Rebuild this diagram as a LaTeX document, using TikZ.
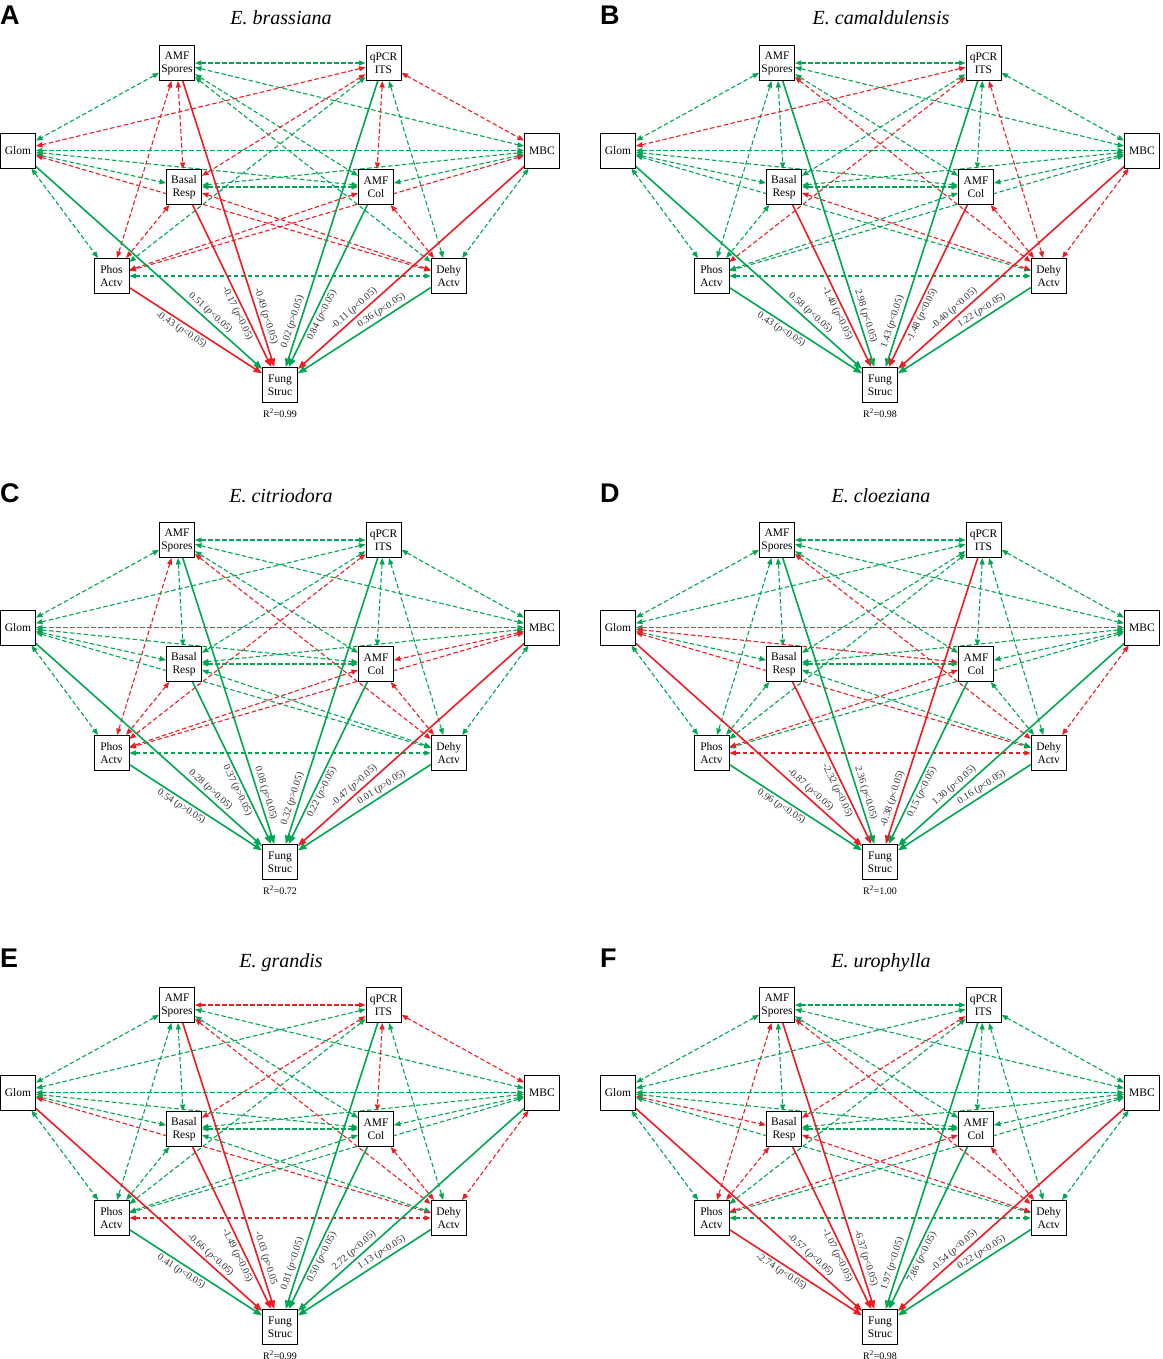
\documentclass[tikz,border=0pt]{standalone}
\usepackage{fontspec}
\setmainfont{Liberation Serif}
\newfontfamily\panelfont{Liberation Sans}
\usetikzlibrary{arrows.meta,backgrounds}

\definecolor{gcol}{RGB}{0,166,81}
\definecolor{rcol}{RGB}{237,28,36}

\tikzset{
  var/.style={draw, line width=0.9pt, fill=white, minimum width=35pt,
    minimum height=35pt, inner sep=0pt, align=center,
    font=\fontsize{11.5}{13}\selectfont},
  cov/.style={line width=1.1pt, dash pattern=on 4.5pt off 2.5pt,
    {Triangle[length=6.5pt,width=5pt]}-{Triangle[length=6.5pt,width=5pt]}},
  eff/.style={line width=1.6pt, -{Triangle[length=8.5pt,width=6.5pt]}},
  est/.style={sloped, inner sep=2pt, text=black!80,
    font=\fontsize{10}{12}\selectfont},
  tag/.style={anchor=base west, inner sep=0pt,
    font=\panelfont\bfseries\fontsize{27}{30}\selectfont},
  species/.style={anchor=base, inner sep=0pt,
    font=\fontsize{20}{24}\selectfont\itshape},
  rsq/.style={anchor=base, inner sep=0pt, font=\fontsize{10}{12}\selectfont},
  % where the estimate sits on each path into Fung Struc
  labP/.style={pos=0.42, below},
  labG/.style={pos=0.75, above},
  labB/.style={pos=0.65, below},
  labS/.style={pos=0.83, above},
  labQ/.style={pos=0.85, above},
  labC/.style={pos=0.66, below},
  labM/.style={pos=0.73, above},
  labD/.style={pos=0.34, above}
}

% one panel: prefix, shift x, shift y, letter, species, R2
\newcommand{\sempanel}[6]{%
  \begin{scope}[shift={(#2,#3)}]
    \node[tag] (#1tag) at (0,25) {#4};
    \node[species] (#1title) at (281,25) {#5};
    \node[var] (#1S) at (177,63) {AMF\\Spores};
    \node[var] (#1Q) at (383.5,63) {qPCR\\ITS};
    \node[var] (#1G) at (18,150.5) {Glom};
    \node[var] (#1M) at (542,150.5) {MBC};
    \node[var] (#1B) at (184,187) {Basal\\Resp};
    \node[var] (#1C) at (376,187) {AMF\\Col};
    \node[var] (#1P) at (111.5,276) {Phos\\Actv};
    \node[var] (#1D) at (448.7,276) {Dehy\\Actv};
    \node[var] (#1F) at (280,385) {Fung\\Struc};
    \node[rsq] (#1R) at (280,417) {R\textsuperscript{2}=#6};
  \end{scope}}

\begin{document}
\begin{tikzpicture}[x=1pt, y=-1pt]
  \useasboundingbox (0,0) rectangle (1162,1359);

  % A
  \sempanel{a}{0}{0}{A}{E. brassiana}{0.99}
  \begin{pgfonlayer}{background}
    \foreach \u/\v/\c in {S/Q/gcol, S/G/gcol, S/M/gcol, S/B/rcol, S/C/gcol, S/P/rcol, S/D/gcol,
        Q/G/rcol, Q/M/rcol, Q/B/rcol, Q/C/rcol, Q/P/gcol, Q/D/gcol,
        G/M/gcol, G/B/gcol, G/C/gcol, G/P/gcol, G/D/rcol,
        M/B/gcol, M/C/gcol, M/P/rcol, M/D/gcol,
        B/C/gcol, B/P/rcol, B/D/rcol, C/P/rcol, C/D/rcol, P/D/gcol}
      \draw[cov,\c] (a\u) -- (a\v);
    \foreach \u/\l/\c/\w in {P/labP/rcol/{-0.43 (\textit{p}<0.05)}, G/labG/gcol/{0.51 (\textit{p}<0.05)},
        B/labB/rcol/{-0.17 (\textit{p}<0.05)}, S/labS/rcol/{-0.49 (\textit{p}<0.05)},
        Q/labQ/gcol/{0.02 (\textit{p}>0.05)}, C/labC/gcol/{0.84 (\textit{p}<0.05)},
        M/labM/rcol/{-0.11 (\textit{p}<0.05)}, D/labD/gcol/{0.36 (\textit{p}<0.05)}}
      \draw[eff,\c] (a\u) -- node[est,\l] {\w} (aF);
  \end{pgfonlayer}

  % B
  \sempanel{b}{600}{0}{B}{E. camaldulensis}{0.98}
  \begin{pgfonlayer}{background}
    \foreach \u/\v/\c in {S/Q/gcol, S/G/gcol, S/M/gcol, S/B/gcol, S/C/gcol, S/P/gcol, S/D/rcol,
        Q/G/rcol, Q/M/gcol, Q/B/gcol, Q/C/gcol, Q/P/rcol, Q/D/rcol,
        G/M/gcol, G/B/gcol, G/C/gcol, G/P/gcol, G/D/gcol,
        M/B/gcol, M/C/gcol, M/P/gcol, M/D/rcol,
        B/C/gcol, B/P/gcol, B/D/rcol, C/P/gcol, C/D/rcol, P/D/gcol}
      \draw[cov,\c] (b\u) -- (b\v);
    \foreach \u/\l/\c/\w in {P/labP/gcol/{0.43 (\textit{p}<0.05)}, G/labG/gcol/{0.58 (\textit{p}<0.05)},
        B/labB/rcol/{-1.40 (\textit{p}<0.05)}, S/labS/gcol/{2.98 (\textit{p}<0.05)},
        Q/labQ/gcol/{1.43 (\textit{p}<0.05)}, C/labC/rcol/{-1.48 (\textit{p}<0.05)},
        M/labM/rcol/{-0.40 (\textit{p}<0.05)}, D/labD/gcol/{1.22 (\textit{p}<0.05)}}
      \draw[eff,\c] (b\u) -- node[est,\l] {\w} (bF);
  \end{pgfonlayer}

  % C
  \sempanel{c}{0}{477}{C}{E. citriodora}{0.72}
  \begin{pgfonlayer}{background}
    \foreach \u/\v/\c in {S/Q/gcol, S/G/gcol, S/M/gcol, S/B/gcol, S/C/gcol, S/P/rcol, S/D/rcol,
        Q/G/gcol, Q/M/gcol, Q/B/gcol, Q/C/gcol, Q/P/rcol, Q/D/gcol,
        G/M/gcol, G/B/gcol, G/C/gcol, G/P/gcol, G/D/gcol,
        M/B/gcol, M/C/rcol, M/P/rcol, M/D/gcol,
        B/C/gcol, B/P/rcol, B/D/gcol, C/P/rcol, C/D/rcol, P/D/gcol}
      \draw[cov,\c] (c\u) -- (c\v);
    \foreach \u/\l/\c/\w in {P/labP/gcol/{0.54 (\textit{p}>0.05)}, G/labG/gcol/{0.28 (\textit{p}>0.05)},
        B/labB/gcol/{0.37 (\textit{p}>0.05)}, S/labS/gcol/{0.08 (\textit{p}>0.05)},
        Q/labQ/gcol/{0.32 (\textit{p}>0.05)}, C/labC/gcol/{0.22 (\textit{p}>0.05)},
        M/labM/rcol/{-0.47 (\textit{p}>0.05)}, D/labD/gcol/{0.01 (\textit{p}>0.05)}}
      \draw[eff,\c] (c\u) -- node[est,\l] {\w} (cF);
  \end{pgfonlayer}

  % D
  \sempanel{d}{600}{477}{D}{E. cloeziana}{1.00}
  \begin{pgfonlayer}{background}
    \foreach \u/\v/\c in {S/Q/gcol, S/G/gcol, S/M/gcol, S/B/gcol, S/C/gcol, S/P/gcol, S/D/rcol,
        Q/G/gcol, Q/M/gcol, Q/B/gcol, Q/C/gcol, Q/P/gcol, Q/D/gcol,
        G/M/gcol, G/B/gcol, G/C/rcol, G/P/gcol, G/D/rcol,
        M/B/gcol, M/C/gcol, M/P/gcol, M/D/rcol,
        B/C/gcol, B/P/gcol, B/D/gcol, C/P/rcol, C/D/gcol, P/D/rcol}
      \draw[cov,\c] (d\u) -- (d\v);
    \foreach \u/\l/\c/\w in {P/labP/gcol/{0.96 (\textit{p}<0.05)}, G/labG/rcol/{-0.87 (\textit{p}<0.05)},
        B/labB/rcol/{-2.32 (\textit{p}<0.05)}, S/labS/gcol/{2.36 (\textit{p}<0.05)},
        Q/labQ/rcol/{-0.38 (\textit{p}<0.05)}, C/labC/gcol/{0.15 (\textit{p}<0.05)},
        M/labM/gcol/{1.30 (\textit{p}<0.05)}, D/labD/gcol/{0.16 (\textit{p}<0.05)}}
      \draw[eff,\c] (d\u) -- node[est,\l] {\w} (dF);
  \end{pgfonlayer}

  % E
  \sempanel{e}{0}{942}{E}{E. grandis}{0.99}
  \begin{pgfonlayer}{background}
    \foreach \u/\v/\c in {S/Q/rcol, S/G/gcol, S/M/gcol, S/B/gcol, S/C/gcol, S/P/gcol, S/D/rcol,
        Q/G/gcol, Q/M/rcol, Q/B/rcol, Q/C/rcol, Q/P/gcol, Q/D/gcol,
        G/M/gcol, G/B/gcol, G/C/gcol, G/P/gcol, G/D/rcol,
        M/B/gcol, M/C/gcol, M/P/gcol, M/D/rcol,
        B/C/gcol, B/P/gcol, B/D/gcol, C/P/gcol, C/D/rcol, P/D/rcol}
      \draw[cov,\c] (e\u) -- (e\v);
    \foreach \u/\l/\c/\w in {P/labP/gcol/{0.41 (\textit{p}<0.05)}, G/labG/rcol/{-0.66 (\textit{p}<0.05)},
        B/labB/rcol/{-1.49 (\textit{p}<0.05)}, S/labS/rcol/{-0.03 (\textit{p}>0.05},
        Q/labQ/gcol/{0.81 (\textit{p}<0.05)}, C/labC/gcol/{0.50 (\textit{p}<0.05)},
        M/labM/gcol/{2.72 (\textit{p}<0.05)}, D/labD/gcol/{1.13 (\textit{p}<0.05)}}
      \draw[eff,\c] (e\u) -- node[est,\l] {\w} (eF);
  \end{pgfonlayer}

  % F
  \sempanel{f}{600}{942}{F}{E. urophylla}{0.98}
  \begin{pgfonlayer}{background}
    \foreach \u/\v/\c in {S/Q/gcol, S/G/gcol, S/M/gcol, S/B/gcol, S/C/gcol, S/P/rcol, S/D/rcol,
        Q/G/gcol, Q/M/gcol, Q/B/rcol, Q/C/gcol, Q/P/gcol, Q/D/gcol,
        G/M/gcol, G/B/rcol, G/C/gcol, G/P/gcol, G/D/gcol,
        M/B/gcol, M/C/gcol, M/P/gcol, M/D/gcol,
        B/C/gcol, B/P/rcol, B/D/rcol, C/P/rcol, C/D/rcol, P/D/gcol}
      \draw[cov,\c] (f\u) -- (f\v);
    \foreach \u/\l/\c/\w in {P/labP/rcol/{-2.74 (\textit{p}<0.05)}, G/labG/rcol/{-0.57 (\textit{p}<0.05)},
        B/labB/rcol/{-1.07 (\textit{p}<0.05)}, S/labS/rcol/{-6.37 (\textit{p}<0.05)},
        Q/labQ/gcol/{1.97 (\textit{p}<0.05)}, C/labC/gcol/{7.86 (\textit{p}<0.05)},
        M/labM/rcol/{-0.54 (\textit{p}<0.05)}, D/labD/gcol/{0.22 (\textit{p}<0.05)}}
      \draw[eff,\c] (f\u) -- node[est,\l] {\w} (fF);
  \end{pgfonlayer}
\end{tikzpicture}
\end{document}
